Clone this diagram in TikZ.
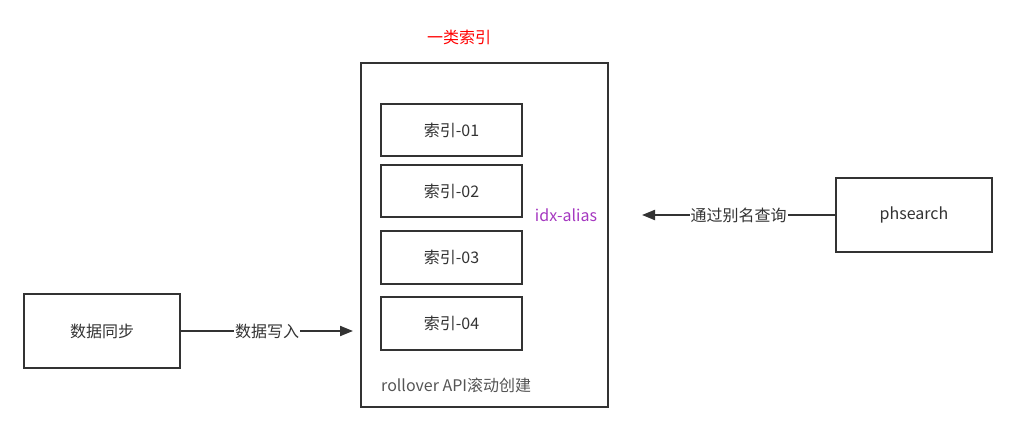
\documentclass[tikz,border=0pt]{standalone}
\usepackage{fontspec}
\setmainfont{Noto Sans CJK SC}
\usetikzlibrary{arrows.meta}
\definecolor{ln}{HTML}{333333}
\definecolor{tx}{HTML}{333333}
\definecolor{alias}{HTML}{A538C0}
\definecolor{gr}{HTML}{555555}
\begin{document}
\begin{tikzpicture}[x=1pt,y=-1pt,
  box/.style={draw=ln,line width=2pt,text=tx,font=\fontsize{16}{18}\selectfont,inner sep=0pt},
  conn/.style={draw=ln,line width=2pt,-{Triangle[length=13pt,width=10pt]}},
  lbl/.style={fill=white,text=tx,font=\fontsize{16}{18}\selectfont,inner sep=1pt}]
\useasboundingbox (0,0) rectangle (1025,446);
\node[box,minimum width=247pt,minimum height=344pt] (big) at (484.5,235) {};
\node[box,minimum width=141pt,minimum height=52pt] (i1) at (451.5,130) {索引-01};
\node[box,minimum width=141pt,minimum height=52pt] (i2) at (451.5,191) {索引-02};
\node[box,minimum width=141pt,minimum height=53pt] (i3) at (451.5,257.5) {索引-03};
\node[box,minimum width=141pt,minimum height=53pt] (i4) at (451.5,323.5) {索引-04};
\node[text=red,font=\fontsize{16}{18}\selectfont] (title) at (459,37) {一类索引};
\node[text=alias,font=\fontsize{16}{18}\selectfont] (alias) at (566,215) {idx-alias};
\node[text=gr,font=\fontsize{16}{18}\selectfont,anchor=west,inner sep=0pt] (roll) at (381,385) {rollover API滚动创建};
\node[box,minimum width=156pt,minimum height=74pt] (ph) at (914,215) {phsearch};
\node[box,minimum width=156pt,minimum height=74pt] (sync) at (102,331) {数据同步};
\coordinate (inend) at (353,331);
\coordinate (qend) at (642,215);
\draw[conn] (sync.east) -- node[lbl] {数据写入} (inend);
\draw[conn] (ph.west) -- node[lbl] {通过别名查询} (qend);
\end{tikzpicture}
\end{document}
